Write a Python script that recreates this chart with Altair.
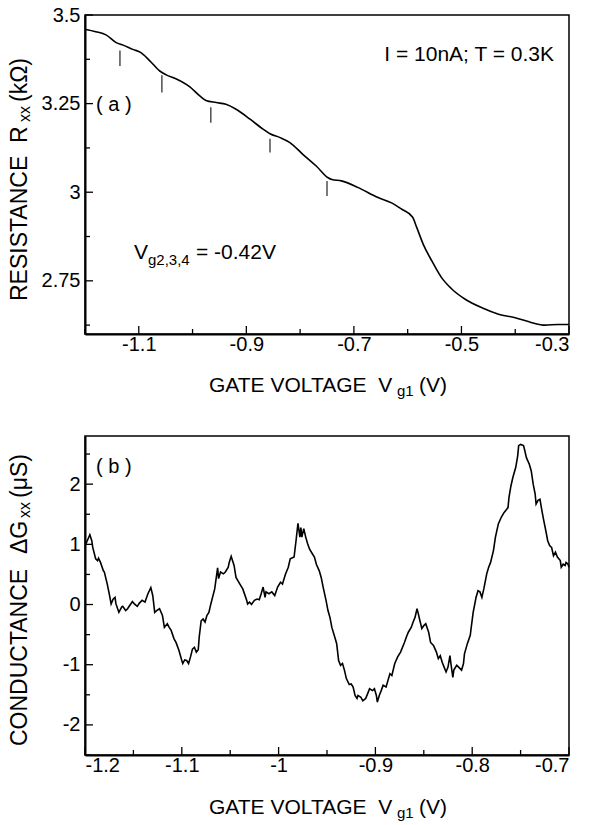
import altair as alt
import pandas as pd

FONT = "Liberation Sans"

# ---------------- Panel (a): resistance vs gate voltage ----------------
a_vg = [-1.200, -1.180, -1.161, -1.142, -1.129, -1.111, -1.096, -1.079, -1.061, -1.049,
        -1.031, -1.005, -0.986, -0.975, -0.956, -0.938, -0.919, -0.893, -0.869, -0.856,
        -0.837, -0.819, -0.795, -0.770, -0.748, -0.741, -0.723, -0.692, -0.655, -0.630,
        -0.611, -0.591, -0.583, -0.571, -0.555, -0.537, -0.518, -0.493, -0.462, -0.431,
        -0.400, -0.369, -0.345, -0.320, -0.300]
a_r = [3.460, 3.453, 3.444, 3.422, 3.415, 3.403, 3.394, 3.370, 3.342, 3.331,
       3.320, 3.297, 3.271, 3.259, 3.253, 3.248, 3.234, 3.206, 3.178, 3.165,
       3.154, 3.140, 3.107, 3.074, 3.041, 3.036, 3.032, 3.013, 2.985, 2.970,
       2.952, 2.930, 2.900, 2.853, 2.806, 2.759, 2.727, 2.698, 2.674, 2.656,
       2.646, 2.632, 2.625, 2.627, 2.627]

# short vertical markers under the plateaus
mark_vg = [-1.135, -1.057, -0.966, -0.856, -0.750]
mark_top = [3.400, 3.330, 3.240, 3.151, 3.032]
mark_bot = [3.356, 3.281, 3.196, 3.112, 2.989]

a_x_major = [-1.1, -0.9, -0.7, -0.5, -0.3]
a_x_minor = [-1.2, -1.0, -0.8, -0.6, -0.4]
a_y_major = [2.75, 3.0, 3.25, 3.5]
a_y_minor = [2.625, 2.875, 3.125, 3.375]

# ---------------- Panel (b): conductance fluctuation ----------------
b_vg = [-1.199, -1.195, -1.193, -1.192, -1.189, -1.187, -1.186, -1.184, -1.181, -1.180,
        -1.177, -1.175, -1.173, -1.171, -1.169, -1.168, -1.165, -1.162, -1.161, -1.158,
        -1.156, -1.154, -1.151, -1.149, -1.146, -1.144, -1.141, -1.138, -1.135, -1.132,
        -1.130, -1.128, -1.126, -1.123, -1.120, -1.118, -1.115, -1.113, -1.111, -1.108,
        -1.106, -1.103, -1.100, -1.099, -1.097, -1.095, -1.093, -1.091, -1.089, -1.087,
        -1.085, -1.083, -1.082, -1.080, -1.078, -1.076, -1.074, -1.072, -1.070, -1.066,
        -1.063, -1.062, -1.060, -1.057, -1.055, -1.052, -1.051, -1.049, -1.046, -1.044,
        -1.040, -1.037, -1.033, -1.032, -1.030, -1.028, -1.025, -1.022, -1.020, -1.018,
        -1.016, -1.014, -1.013, -1.010, -1.007, -1.004, -1.001, -0.998, -0.996, -0.993,
        -0.990, -0.988, -0.984, -0.982, -0.980, -0.978, -0.977, -0.976, -0.974, -0.972,
        -0.970, -0.968, -0.965, -0.963, -0.961, -0.958, -0.956, -0.954, -0.951, -0.949,
        -0.947,
        -0.945, -0.942, -0.940, -0.938, -0.936, -0.934, -0.932, -0.930, -0.927, -0.925,
        -0.923, -0.921, -0.919, -0.918, -0.915, -0.913, -0.910, -0.908, -0.906, -0.903,
        -0.901, -0.899, -0.898, -0.896, -0.894, -0.892, -0.889, -0.887, -0.885, -0.883,
        -0.880, -0.877, -0.874, -0.870, -0.868, -0.866, -0.863, -0.861, -0.859, -0.857,
        -0.856, -0.854, -0.852, -0.850, -0.848, -0.845, -0.843, -0.840, -0.837, -0.835,
        -0.833, -0.831, -0.829, -0.827, -0.825, -0.823, -0.822, -0.820, -0.819, -0.816,
        -0.814, -0.811, -0.809, -0.808, -0.805, -0.802, -0.801, -0.799, -0.796, -0.794,
        -0.792, -0.790, -0.788, -0.785, -0.783, -0.781, -0.778, -0.776, -0.773, -0.770,
        -0.767, -0.763, -0.762, -0.760, -0.758, -0.755, -0.753, -0.752, -0.750, -0.747,
        -0.746, -0.744, -0.741, -0.739, -0.737, -0.735, -0.734, -0.732, -0.730, -0.728,
        -0.726, -0.724, -0.722, -0.720, -0.718, -0.716, -0.714, -0.712, -0.709, -0.708,
        -0.706, -0.704, -0.703, -0.701, -0.700]
b_g = [1.01, 1.16, 1.06, 0.95, 0.76, 0.73, 0.77, 0.70, 0.56, 0.54,
       0.34, 0.18, 0.01, 0.09, 0.12, 0.01, -0.13, -0.04, -0.03, -0.10,
       -0.07, -0.02, 0.05, 0.01, -0.03, 0.02, 0.07, 0.04, 0.18, 0.28,
       0.15, -0.13, -0.10, -0.07, -0.18, -0.38, -0.32, -0.38, -0.43, -0.57,
       -0.63, -0.76, -0.93, -0.98, -0.92, -0.93, -0.98, -0.87, -0.74, -0.71,
       -0.79, -0.75, -0.54, -0.27, -0.24, -0.29, -0.18, -0.13, 0.01, 0.26,
       0.61, 0.43, 0.54, 0.51, 0.54, 0.62, 0.70, 0.80, 0.65, 0.45,
       0.34, 0.26, 0.07, 0.01, 0.04, 0.00, 0.07, 0.09, 0.08, 0.18,
       0.29, 0.12, 0.21, 0.18, 0.21, 0.15, 0.29, 0.37, 0.34, 0.50,
       0.62, 0.76, 0.79, 1.06, 1.35, 1.12, 1.28, 1.12, 1.26, 1.12,
       1.01, 0.92, 0.84, 0.79, 0.67, 0.56, 0.45, 0.29, 0.07, -0.10,
       -0.21,
       -0.38, -0.54, -0.65, -0.93, -1.01, -0.98, -1.09, -1.23, -1.33, -1.32,
       -1.37, -1.51, -1.56, -1.51, -1.54, -1.60, -1.56, -1.48, -1.40, -1.43,
       -1.40, -1.51, -1.62, -1.51, -1.43, -1.34, -1.37, -1.26, -1.15, -1.18,
       -0.98, -0.87, -0.79, -0.63, -0.54, -0.46, -0.38, -0.29, -0.21, -0.07,
       -0.13, -0.27, -0.40, -0.35, -0.32, -0.46, -0.63, -0.68, -0.79, -0.90,
       -0.85, -0.96, -1.04, -1.12, -1.04, -0.85, -0.98, -1.21, -1.09, -1.01,
       -1.04, -1.09, -0.98, -0.82, -0.65, -0.51, -0.38, -0.13, 0.12, 0.23,
       0.21, 0.12, 0.26, 0.51, 0.62, 0.70, 0.90, 1.12, 1.34, 1.45,
       1.53, 1.61, 1.78, 1.97, 2.11, 2.28, 2.47, 2.64, 2.66, 2.64,
       2.58, 2.44, 2.33, 2.22, 2.00, 1.84, 1.67, 1.73, 1.75, 1.56,
       1.39, 1.23, 1.06, 0.98, 0.95, 0.81, 0.87, 0.79, 0.73, 0.62,
       0.67, 0.65, 0.70, 0.67, 0.62]

b_x_major = [-1.2, -1.1, -1.0, -0.9, -0.8, -0.7]
b_x_minor = [-1.15, -1.05, -0.95, -0.85, -0.75]
b_y_major = [-2, -1, 0, 1, 2]
b_y_minor = [-2.5, -1.5, -0.5, 0.5, 1.5, 2.5]

# text pieces (non-breaking spaces keep double gaps in SVG)
NB = "\u00a0"
txt_a = "( a )"
txt_b = "( b )"
txt_cond = "I = 10nA; T = 0.3K"
txt_vg_main, txt_vg_sub, txt_vg_rest = "V", "g2,3,4", "= -0.42V"
txt_x_main, txt_x_sub, txt_x_rest = "GATE VOLTAGE " + NB + "V", "g1", "(V)"
txt_ya_main, txt_ya_sub, txt_ya_rest = "RESISTANCE " + NB + "R", "xx", "(kΩ)"
txt_yb_main, txt_yb_mid, txt_yb_sub, txt_yb_rest = "CONDUCTANCE", "ΔG", "xx", "(μS)"

W, H = 484, 319


def axis(values, pad):
    return alt.Axis(values=values, labelExpr="'' + datum.value", ticks=False,
                    domainColor="black", domainWidth=2, grid=False, title=None,
                    labelFont=FONT, labelFontSize=20, labelColor="black",
                    labelPadding=pad)


def label(text, x, y, size, angle=0, align="left", baseline="alphabetic"):
    return alt.Chart(pd.DataFrame({"t": [text]})).mark_text(
        font=FONT, fontSize=size, angle=angle, align=align, baseline=baseline,
        color="black").encode(x=alt.value(x), y=alt.value(y), text="t:N")


def ticks(xvals, yvals_major, yvals_minor, xvals_minor, xs, ys, ax_x, ax_y):
    layers = []
    for vals, ln in ((xvals, 8), (xvals_minor, 5)):
        layers.append(alt.Chart(pd.DataFrame({"x": vals})).mark_rule(
            color="black", strokeWidth=1.3).encode(
            x=alt.X("x:Q", scale=xs, axis=ax_x),
            y=alt.value(H), y2=alt.value(H - ln)))
    for vals, ln in ((yvals_major, 8), (yvals_minor, 5)):
        layers.append(alt.Chart(pd.DataFrame({"y": vals})).mark_rule(
            color="black", strokeWidth=1.3).encode(
            y=alt.Y("y:Q", scale=ys, axis=ax_y),
            x=alt.value(0), x2=alt.value(ln)))
    return layers


# ---- panel a ----
xa = alt.Scale(domain=[-1.2, -0.3], nice=False, zero=False)
ya = alt.Scale(domain=[2.6, 3.5], nice=False, zero=False)
ax_ax = axis(a_x_major, 0)
ax_ay = axis(a_y_major, 5)

line_a = alt.Chart(pd.DataFrame({"x": a_vg, "y": a_r})).mark_line(
    color="black", strokeWidth=1.6, interpolate="monotone").encode(
    x=alt.X("x:Q", scale=xa, axis=ax_ax), y=alt.Y("y:Q", scale=ya, axis=ax_ay))

marks_a = alt.Chart(pd.DataFrame({"x": mark_vg, "y": mark_top, "y2": mark_bot})).mark_rule(
    color="#222222", strokeWidth=1.2).encode(
    x=alt.X("x:Q", scale=xa, axis=ax_ax), y=alt.Y("y:Q", scale=ya, axis=ax_ay), y2="y2:Q")

panel_a = alt.layer(
    line_a, marks_a,
    *ticks(a_x_major, a_y_major, a_y_minor, a_x_minor, xa, ya, ax_ax, ax_ay),
    label(txt_a, 11, 90, 20, baseline="middle"),
    label(txt_cond, 469, 46, 21, align="right"),
    label(txt_vg_main, 49, 244, 21),
    label(txt_vg_sub, 63, 250, 15),
    label(txt_vg_rest, 111, 244, 21),
    label(txt_x_main, 124, 377, 21),
    label(txt_x_sub, 312, 381, 15),
    label(txt_x_rest, 334, 377, 21),
    label(txt_ya_main, -58, 286, 23, angle=270),
    label(txt_ya_sub, -55, 107, 16, angle=270),
    label(txt_ya_rest, -58, 87, 23, angle=270),
).properties(width=W, height=H)

# ---- panel b ----
xb = alt.Scale(domain=[-1.2, -0.7], nice=False, zero=False)
yb = alt.Scale(domain=[-2.5, 2.8], nice=False, zero=False)
ax_bx = axis(b_x_major, 0)
ax_by = axis(b_y_major, 5)

line_b = alt.Chart(pd.DataFrame({"x": b_vg, "y": b_g})).mark_line(
    color="black", strokeWidth=1.6).encode(
    x=alt.X("x:Q", scale=xb, axis=ax_bx), y=alt.Y("y:Q", scale=yb, axis=ax_by))

panel_b = alt.layer(
    line_b,
    *ticks(b_x_major, b_y_major, b_y_minor, b_x_minor, xb, yb, ax_bx, ax_by),
    label(txt_b, 11, 31, 20, baseline="middle"),
    label(txt_x_main, 124, 378, 21),
    label(txt_x_sub, 312, 382, 15),
    label(txt_x_rest, 334, 378, 21),
    label(txt_yb_main, -58, 310, 23, angle=270),
    label(txt_yb_mid, -58, 118, 23, angle=270),
    label(txt_yb_sub, -55, 82, 16, angle=270),
    label(txt_yb_rest, -58, 62, 23, angle=270),
).properties(width=W, height=H)

chart = alt.vconcat(panel_a, panel_b, spacing=102, bounds="flush").properties(
    padding={"left": 8, "top": 4, "right": 0, "bottom": 0},
    background="white",
).configure_view(stroke="black", strokeWidth=1.5)

chart.save("out.html", embed_options={"renderer": "svg", "actions": False})
